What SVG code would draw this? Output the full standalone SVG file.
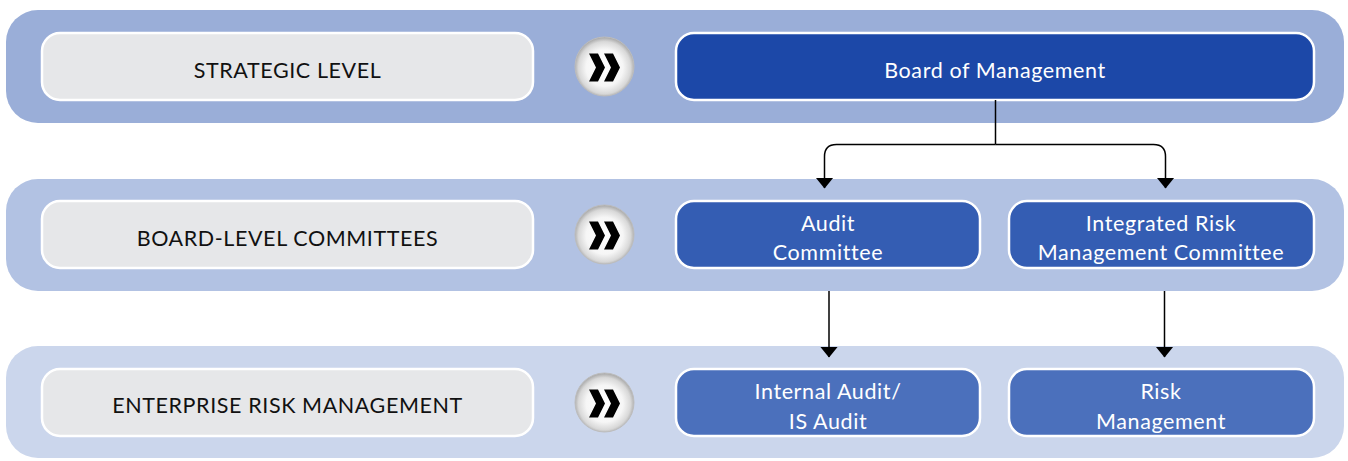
<svg xmlns="http://www.w3.org/2000/svg" width="1348" height="461" viewBox="0 0 1348 461">
<defs>
<radialGradient id="ball" cx="50%" cy="52%" r="52%">
<stop offset="0" stop-color="#ffffff"/>
<stop offset="0.6" stop-color="#f6f6f6"/>
<stop offset="0.85" stop-color="#d8d8d8"/>
<stop offset="1" stop-color="#a4a4a4"/>
</radialGradient>
<marker id="arr" viewBox="0 0 11 18" refX="10.5" refY="9" markerWidth="11" markerHeight="18" markerUnits="userSpaceOnUse" orient="auto">
<path d="M0,0 L11,9 L0,18 Z" fill="#000"/>
</marker>
<g id="chev">
<polygon points="0,0 9,0 16,14 9,28 0,28 7,14" fill="#000"/>
<polygon points="15,0 24,0 31,14 24,28 15,28 22,14" fill="#000"/>
</g>
</defs>
<style>
.band1{fill:#9aaed8}
.band2{fill:#b2c2e3}
.band3{fill:#cbd6ec}
.lbl{fill:#e6e7e9;stroke:#ffffff;stroke-width:2.5}
.b1{fill:#1c48a8;stroke:#ffffff;stroke-width:2.5}
.b2{fill:#345db3;stroke:#ffffff;stroke-width:2.5}
.b3{fill:#4b70bc;stroke:#ffffff;stroke-width:2.5}
.ball{fill:url(#ball);stroke:#bdbdbd;stroke-width:1}
.t{font-family:Lato,"Liberation Sans",sans-serif;font-size:21.5px;letter-spacing:0.6px;text-anchor:middle}
.dk{fill:#111111}
.wt{fill:#ffffff}
.con{fill:none;stroke:#000;stroke-width:1.5}
</style>

<g id="bands">
<rect class="band1" x="6" y="10" width="1338" height="113" rx="32"/>
<rect class="band2" x="6" y="179" width="1338" height="112" rx="32"/>
<rect class="band3" x="6" y="346" width="1338" height="112" rx="32"/>
</g>

<g id="lvl-strategic">
<rect class="lbl" x="42" y="33" width="491" height="67" rx="18"/>
<text class="t dk" x="287.5" y="78">STRATEGIC LEVEL</text>
</g>
<g id="lvl-board">
<rect class="lbl" x="42" y="201" width="491" height="67" rx="18"/>
<text class="t dk" x="287.5" y="246">BOARD-LEVEL COMMITTEES</text>
</g>
<g id="lvl-erm">
<rect class="lbl" x="42" y="369" width="491" height="67" rx="18"/>
<text class="t dk" x="287.5" y="413">ENTERPRISE RISK MANAGEMENT</text>
</g>

<g id="ball1">
<circle class="ball" cx="604.5" cy="66.5" r="29.5"/>
<use href="#chev" x="589" y="53.5"/>
</g>
<g id="ball2">
<circle class="ball" cx="604.5" cy="234.5" r="29.5"/>
<use href="#chev" x="589" y="221.5"/>
</g>
<g id="ball3">
<circle class="ball" cx="604.5" cy="402.5" r="29.5"/>
<use href="#chev" x="589" y="389.5"/>
</g>

<g id="board-of-management">
<rect class="b1" x="676" y="33" width="638" height="67" rx="18"/>
<text class="t wt" x="995" y="78">Board of Management</text>
</g>
<g id="audit-committee">
<rect class="b2" x="676" y="201" width="304" height="67" rx="18"/>
<text class="t wt" x="828" y="231">Audit</text>
<text class="t wt" x="828" y="260">Committee</text>
</g>
<g id="irmc">
<rect class="b2" x="1009" y="201" width="305" height="67" rx="18"/>
<text class="t wt" x="1161" y="231">Integrated Risk</text>
<text class="t wt" x="1161" y="260">Management Committee</text>
</g>
<g id="internal-audit">
<rect class="b3" x="676" y="369" width="304" height="67" rx="18"/>
<text class="t wt" x="828" y="399">Internal Audit/</text>
<text class="t wt" x="828" y="429">IS Audit</text>
</g>
<g id="risk-management">
<rect class="b3" x="1009" y="369" width="305" height="67" rx="18"/>
<text class="t wt" x="1161" y="399">Risk</text>
<text class="t wt" x="1161" y="429">Management</text>
</g>

<g id="connectors">
<path class="con" d="M995.5,100 V144.5"/>
<path class="con" d="M995.5,144.5 H836.5 Q824.5,144.5 824.5,156.5 V188" marker-end="url(#arr)"/>
<path class="con" d="M995.5,144.5 H1153.5 Q1165.5,144.5 1165.5,156.5 V188" marker-end="url(#arr)"/>
<path class="con" d="M829,291 V357" marker-end="url(#arr)"/>
<path class="con" d="M1164.5,291 V357" marker-end="url(#arr)"/>
</g>
</svg>
